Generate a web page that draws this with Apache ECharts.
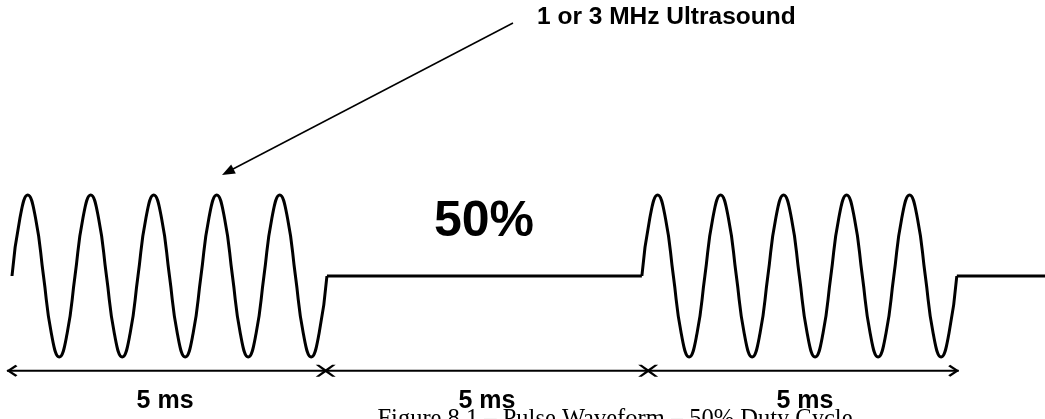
<!DOCTYPE html>
<html>
<head>
<meta charset="utf-8">
<script src="https://cdn.jsdelivr.net/npm/echarts@6/dist/echarts.min.js"></script>
<style>
	html, body { margin: 0; padding: 0; background: #fff; }
	#chart { width: 1045px; height: 419px; }
</style>
</head>
<body>
<div id="chart"></div>
<script>
// burst start times (ms) and one burst of levels, read every 1/8 ms
const burstStarts = [0, 10];
const sampleStep = 0.125;
const burstLevels = [
	0, 0.71, 1, 0.71, 0, -0.71, -1, -0.71,
	0, 0.71, 1, 0.71, 0, -0.71, -1, -0.71,
	0, 0.71, 1, 0.71, 0, -0.71, -1, -0.71,
	0, 0.71, 1, 0.71, 0, -0.71, -1, -0.71,
	0, 0.71, 1, 0.71, 0, -0.71, -1, -0.71,
	0,
];
// off periods (ms) at level 0
const offStarts = [5, 15];
const offEnds = [10, 16.4];

// 5 ms dimension spans below the wave
const dimLevel = -1.17;
const dimLine = [-0.08, 15.03];
const dimJoins = [4.98, 10.1];
const spanCenters = [2.43, 7.54, 12.59];
const spanLabels = ["5 ms", "5 ms", "5 ms"];

const chart = echarts.init(document.getElementById("chart"));

const waveStyle = { color: "#000", width: 3 };
const markStyle = { color: "#000", opacity: 1 };
const series = [];
burstStarts.forEach(function(t0, k) {
	series.push({
		name: "burst" + k,
		type: "line",
		smooth: true,
		symbol: "none",
		clip: false,
		lineStyle: waveStyle,
		data: burstLevels.map(function(v, i) {
			return [t0 + i * sampleStep, v];
		}),
	});
});
offStarts.forEach(function(t0, k) {
	series.push({
		name: "off" + k,
		type: "line",
		symbol: "none",
		clip: false,
		lineStyle: waveStyle,
		data: [[t0, 0], [offEnds[k], 0]],
	});
});

// dimension line
series.push({
	name: "dim",
	type: "line",
	symbol: "none",
	clip: false,
	lineStyle: { color: "#000", width: 2 },
	data: dimLine.map(function(t) { return [t, dimLevel]; }),
});
// arrow heads
series.push({
	name: "leftHead",
	type: "scatter",
	clip: false,
	symbol: "path://M9,0 L0,6 L9,12 L11,10.5 L4,6 L11,1.5 Z",
	symbolSize: [11, 12],
	symbolOffset: [5, 0],
	itemStyle: markStyle,
	data: [[dimLine[0], dimLevel]],
});
series.push({
	name: "rightHead",
	type: "scatter",
	clip: false,
	symbol: "path://M2,0 L11,6 L2,12 L0,10.5 L7,6 L0,1.5 Z",
	symbolSize: [11, 12],
	symbolOffset: [-5, 0],
	itemStyle: markStyle,
	data: [[dimLine[1], dimLevel]],
});
series.push({
	name: "joins",
	type: "scatter",
	clip: false,
	symbol: "path://M0,0 L3.5,0 L10,4.5 L16.5,0 L20,0 L12,6 L20,12 L16.5,12 L10,7.5 L3.5,12 L0,12 L8,6 Z",
	symbolSize: [20, 12],
	itemStyle: markStyle,
	data: dimJoins.map(function(t) { return [t, dimLevel]; }),
});
series.push({
	name: "spans",
	type: "scatter",
	clip: false,
	symbolSize: 0,
	itemStyle: markStyle,
	label: {
		show: true,
		position: "bottom",
		distance: 18,
		color: "#000",
		fontFamily: "Liberation Sans",
		fontWeight: "bold",
		fontSize: 25,
		formatter: function(p) { return spanLabels[p.dataIndex]; },
	},
	data: spanCenters.map(function(t) { return [t, dimLevel]; }),
});

const optionData = {
	animation: false,
	backgroundColor: "#fff",
	grid: {
		left: 5.7,
		right: 0,
		top: 195,
		bottom: 29.6,
		containLabel: false,
	},
	xAxis: {
		type: "value",
		min: -0.1,
		max: 16.4,
		show: false,
	},
	yAxis: {
		type: "value",
		min: -1.4,
		max: 1,
		show: false,
	},
	graphic: [
		// pointer to the ultrasound carrier
		{
			type: "line",
			shape: { x1: 513, y1: 23, x2: 233, y2: 169 },
			style: { stroke: "#000", lineWidth: 1.5 },
		},
		{
			type: "polygon",
			shape: { points: [[222, 175], [235.8, 173.4], [231.2, 164.6]] },
			style: { fill: "#000" },
		},
		{
			type: "text",
			left: 537,
			top: 5,
			style: {
				text: "1 or 3 MHz Ultrasound",
				fill: "#000",
				font: "bold 24.5px 'Liberation Sans'",
			},
		},
		{
			type: "text",
			x: 484,
			y: 222,
			style: {
				text: "50%",
				fill: "#000",
				font: "bold 50px 'Liberation Sans'",
				align: "center",
				verticalAlign: "middle",
			},
		},
		{
			type: "text",
			x: 615,
			y: 407,
			style: {
				text: "Figure 8.1 – Pulse Waveform – 50% Duty Cycle",
				fill: "#000",
				font: "24.5px 'Liberation Serif'",
				align: "center",
				verticalAlign: "top",
			},
		},
	],
	series: series,
};
chart.setOption(optionData);
</script>
</body>
</html>
